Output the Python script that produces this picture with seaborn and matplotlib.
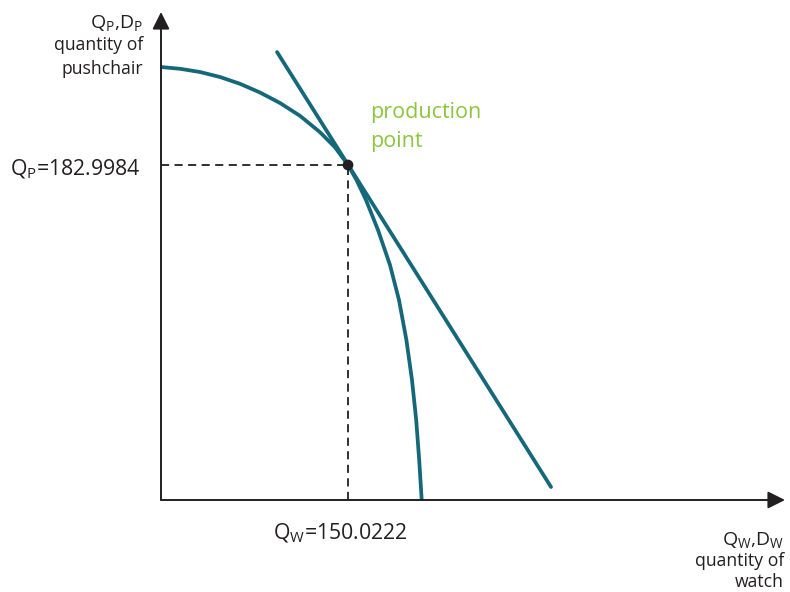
import matplotlib
matplotlib.use("Agg")
import matplotlib.pyplot as plt
import seaborn as sns
import pandas as pd

# Production possibility frontier (quantity of watch, quantity of pushchair)
ppf_watch = [0.0, 15.24, 31.29, 47.33, 63.38, 79.42, 95.47, 111.51, 127.56,
             139.59, 150.0222, 156.84, 164.46, 174.09, 183.71, 190.93,
             196.87, 201.36, 204.73, 207.14, 209.15]
ppf_pushchair = [236.53, 235.55, 233.80, 231.07, 227.36, 222.60, 216.87,
                 209.87, 200.92, 192.67, 182.9984, 174.81, 163.88, 147.49,
                 128.37, 109.25, 87.40, 65.55, 43.70, 21.85, 0.0]

# Price line tangent to the frontier at the production point
price_watch = [93.1, 312.9]
price_pushchair = [244.7, 7.1]

# Production point
q_watch = 150.0222
q_pushchair = 182.9984

teal = "#14687a"
ink = "#231f20"
green = "#8cc63f"

sns.set_style("white")
plt.rcParams["font.family"] = ["Open Sans", "DejaVu Sans"]
plt.rcParams["mathtext.fontset"] = "custom"
plt.rcParams["mathtext.rm"] = "Open Sans"
plt.rcParams["mathtext.it"] = "Open Sans"

W, H = 790, 592
fig = plt.figure(figsize=(W / 100, H / 100), dpi=100)
ax = fig.add_axes([161 / W, (H - 500) / H, (W - 161) / W, 500 / H])
ax.set_xlim(0, 629 / 1.2465)
ax.set_ylim(0, 500 / 1.8306)
ax.axis("off")

ppf = pd.DataFrame({"watch": ppf_watch, "pushchair": ppf_pushchair})
price = pd.DataFrame({"watch": price_watch, "pushchair": price_pushchair})
sns.lineplot(data=ppf, x="watch", y="pushchair", ax=ax, color=teal, lw=2.7,
             sort=False, estimator=None)
sns.lineplot(data=price, x="watch", y="pushchair", ax=ax, color=teal, lw=2.7,
             sort=False, estimator=None)
for line in ax.lines:
    line.set_solid_joinstyle("round")

# Guides from the production point to the axes
ax.plot([0, q_watch], [q_pushchair, q_pushchair], color=ink, lw=1.3,
        ls=(0, (4.5, 3)), clip_on=False)
ax.plot([q_watch, q_watch], [0, q_pushchair], color=ink, lw=1.3,
        ls=(0, (4.5, 3)), clip_on=False)
sns.scatterplot(x=[q_watch], y=[q_pushchair], ax=ax, color=ink, s=60,
                edgecolor="none", zorder=5)

# Axes with arrowheads
x_tip = (785 - 161) / 1.2465
y_tip = (500 - 12) / 1.8306
arrow = dict(arrowstyle="-|>", color=ink, lw=1.4, mutation_scale=26,
             shrinkA=0, shrinkB=0)
ax.annotate("", xy=(x_tip, 0), xytext=(0, 0), arrowprops=arrow,
            annotation_clip=False)
ax.annotate("", xy=(0, y_tip), xytext=(0, 0), arrowprops=arrow,
            annotation_clip=False)

# Axis titles
fig.text(143 / W, 1 - 28 / H, r"$\mathregular{Q_P}$,$\mathregular{D_P}$",
         ha="right", va="baseline", fontsize=14, color=ink)
fig.text(143 / W, 1 - 50 / H, "quantity of", ha="right", va="baseline",
         fontsize=12.7, color=ink)
fig.text(143 / W, 1 - 74 / H, "pushchair", ha="right", va="baseline",
         fontsize=12.7, color=ink)

fig.text(784 / W, 1 - 545 / H, r"$\mathregular{Q_W}$,$\mathregular{D_W}$",
         ha="right", va="baseline", fontsize=14, color=ink)
fig.text(784 / W, 1 - 566 / H, "quantity of", ha="right", va="baseline",
         fontsize=12.7, color=ink)
fig.text(784 / W, 1 - 587 / H, "watch", ha="right", va="baseline",
         fontsize=12.7, color=ink)

# Values of the production point
fig.text(141 / W, 1 - 175 / H,
         r"$\mathregular{Q_P}$=" + f"{q_pushchair:.4f}",
         ha="right", va="baseline", fontsize=15.3, color=ink)
fig.text(340 / W, 1 - 539 / H,
         r"$\mathregular{Q_W}$=" + f"{q_watch:.4f}",
         ha="center", va="baseline", fontsize=15.3, color=ink)

fig.text(370 / W, 1 - 118 / H, "production", ha="left", va="baseline",
         fontsize=15.5, color=green)
fig.text(370 / W, 1 - 147 / H, "point", ha="left", va="baseline",
         fontsize=15.5, color=green)

fig.savefig("out.png", dpi=100)
